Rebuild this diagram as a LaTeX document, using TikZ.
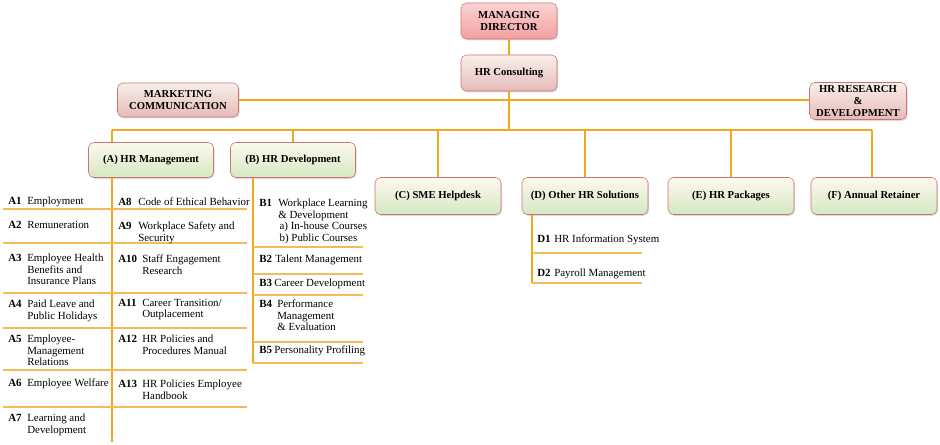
\documentclass[tikz,border=0pt]{standalone}
\usepackage{fontspec}
\setmainfont{Liberation Serif}
\usetikzlibrary{positioning, shadows}
\definecolor{cred}{HTML}{C0504D}
\definecolor{cmdtop}{HTML}{FAD3D3}
\definecolor{cmdbot}{HTML}{F2A0A0}
\definecolor{crosetop}{HTML}{F8EFEA}
\definecolor{crosebot}{HTML}{E6BAB9}
\definecolor{cgreentop}{HTML}{FDF9EE}
\definecolor{cgreenbot}{HTML}{D5E8C1}
\definecolor{cgold}{HTML}{F0A81C}
\definecolor{cline}{HTML}{F3BC58}
\newcommand{\boxfont}{\fontsize{8}{8.8}\selectfont\bfseries}
\newcommand{\itemfont}{\fontsize{8.2}{8.6}\selectfont}
\tikzset{
  every picture/.style={x=0.75pt, y=-0.75pt},
  unitbox/.style={draw=cred!80, rounded corners=4pt, align=center, inner sep=2pt,
    font=\boxfont, top color=#1top, bottom color=#1bot,
    drop shadow={opacity=0.3, shadow xshift=0.8pt, shadow yshift=-1pt}},
  unitbox/.default=crose,
  code/.style={anchor=north west, inner sep=0pt, font=\itemfont\bfseries},
  item/.style={anchor=north west, inner sep=0pt, font=\itemfont, align=left},
  rule/.style={draw=cline, line width=0.85pt},
  conn/.style={draw=cgold, line width=0.85pt},
}
\begin{document}
\begin{tikzpicture}
  \useasboundingbox (0,0) rectangle (940,445);
  % top of the chart
  \node[unitbox=cmd, minimum width=72pt, minimum height=27pt] (md) at (509,21) {MANAGING\\DIRECTOR};
  \node[unitbox, minimum width=72pt, minimum height=27pt] (hrc) at (509,73) {HR Consulting};
  \node[unitbox, minimum width=90.75pt, minimum height=25.5pt] (mkt) at (178,100) {MARKETING\\COMMUNICATION};
  \node[unitbox, minimum width=72.75pt, minimum height=27.75pt] (rnd) at (858,101) {HR RESEARCH\\\&\\DEVELOPMENT};
  \draw[conn, line width=1.4pt] (md) -- (hrc);
  \draw[conn] (mkt.east) -- (mkt.east -| rnd.west);
  % the six units
  \node[unitbox=cgreen, minimum width=93.75pt, minimum height=26.25pt] (hrm) at (151,160) {(A) HR Management};
  \node[unitbox=cgreen, minimum width=93.75pt, minimum height=26.25pt] (hrd) at (293,160) {(B) HR Development};
  \node[unitbox=cgreen, minimum width=94.5pt, minimum height=27.75pt] (sme) at (438,196) {(C) SME Helpdesk};
  \node[unitbox=cgreen, minimum width=94.5pt, minimum height=27.75pt] (oth) at (585,196) {(D) Other HR Solutions};
  \node[unitbox=cgreen, minimum width=94.5pt, minimum height=27.75pt] (pkg) at (731,196) {(E) HR Packages};
  \node[unitbox=cgreen, minimum width=94.5pt, minimum height=27.75pt] (ret) at (874,196) {(F) Annual Retainer};
  \coordinate (busL) at (112,130);
  \coordinate (busR) at (872,130);
  \draw[conn, line width=1.4pt] (hrc.south) -- (hrc.south |- busL);
  \draw[conn] (busL) -- (busR);
  \draw[conn] (busL) -- (busL |- hrm.north);
  \draw[conn] (hrd.north |- busL) -- (hrd.north);
  \draw[conn] (sme.north |- busL) -- (sme.north);
  \draw[conn] (oth.north |- busL) -- (oth.north);
  \draw[conn] (pkg.north |- busL) -- (pkg.north);
  \draw[conn] (busR) -- (busR |- ret.north);
  % (A) list
  \coordinate (aend) at (112,442);
  \draw[conn] (busL |- hrm.south) -- (aend);
  \foreach \y in {209,243,293,328,370,407}
    \draw[rule] (3,\y) -- (247,\y);
  \node[code] (a1) at (8,197) {A1};    \node[item] (a1t) at (27,197) {Employment};
  \node[code] (a2) at (8,221) {A2};    \node[item] (a2t) at (27,221) {Remuneration};
  \node[code] (a3) at (8,254) {A3};    \node[item] (a3t) at (27,254) {Employee Health\\Benefits and\\Insurance Plans};
  \node[code] (a4) at (8,300) {A4};    \node[item] (a4t) at (27,300) {Paid Leave and\\Public Holidays};
  \node[code] (a5) at (8,335) {A5};    \node[item] (a5t) at (27,335) {Employee-\\Management\\Relations};
  \node[code] (a6) at (8,379) {A6};    \node[item] (a6t) at (27,379) {Employee Welfare};
  \node[code] (a7) at (8,414) {A7};    \node[item] (a7t) at (27,414) {Learning and\\Development};
  \node[code] (a8) at (118,198) {A8};  \node[item] (a8t) at (138,198) {Code of Ethical Behavior};
  \node[code] (a9) at (118,222) {A9};  \node[item] (a9t) at (138,222) {Workplace Safety and\\Security};
  \node[code] (a10) at (118,255) {A10}; \node[item] (a10t) at (142,255) {Staff Engagement\\Research};
  \node[code] (a11) at (118,299) {A11}; \node[item] (a11t) at (142,299) {Career Transition/\\Outplacement};
  \node[code] (a12) at (118,335) {A12}; \node[item] (a12t) at (142,335) {HR Policies and\\Procedures Manual};
  \node[code] (a13) at (118,380) {A13}; \node[item] (a13t) at (142,380) {HR Policies Employee\\Handbook};
  % (B) list
  \coordinate (bend) at (253,363);
  \draw[conn] (bend |- hrd.south) -- (bend);
  \foreach \y in {247,274,295,342,363}
    \draw[rule] (253,\y) -- (363,\y);
  \node[code] (b1) at (259,199) {B1}; \node[item] (b1t) at (278,199) {Workplace Learning\\\& Development\\\hspace{1pt}a) In-house Courses\\\hspace{1pt}b) Public Courses};
  \node[code] (b2) at (259,255) {B2}; \node[item] (b2t) at (275,255) {Talent Management};
  \node[code] (b3) at (259,279) {B3}; \node[item] (b3t) at (274,279) {Career Development};
  \node[code] (b4) at (259,300) {B4}; \node[item] (b4t) at (277,300) {Performance\\Management\\\& Evaluation};
  \node[code] (b5) at (259,346) {B5}; \node[item] (b5t) at (274,346) {Personality Profiling};
  % (D) list
  \coordinate (dend) at (532,283);
  \draw[conn] (dend |- oth.south) -- (dend);
  \foreach \y in {253,283}
    \draw[rule] (532,\y) -- (642,\y);
  \node[code] (d1) at (537,235) {D1}; \node[item] (d1t) at (554,235) {HR Information System};
  \node[code] (d2) at (537,269) {D2}; \node[item] (d2t) at (554,269) {Payroll Management};
\end{tikzpicture}
\end{document}
